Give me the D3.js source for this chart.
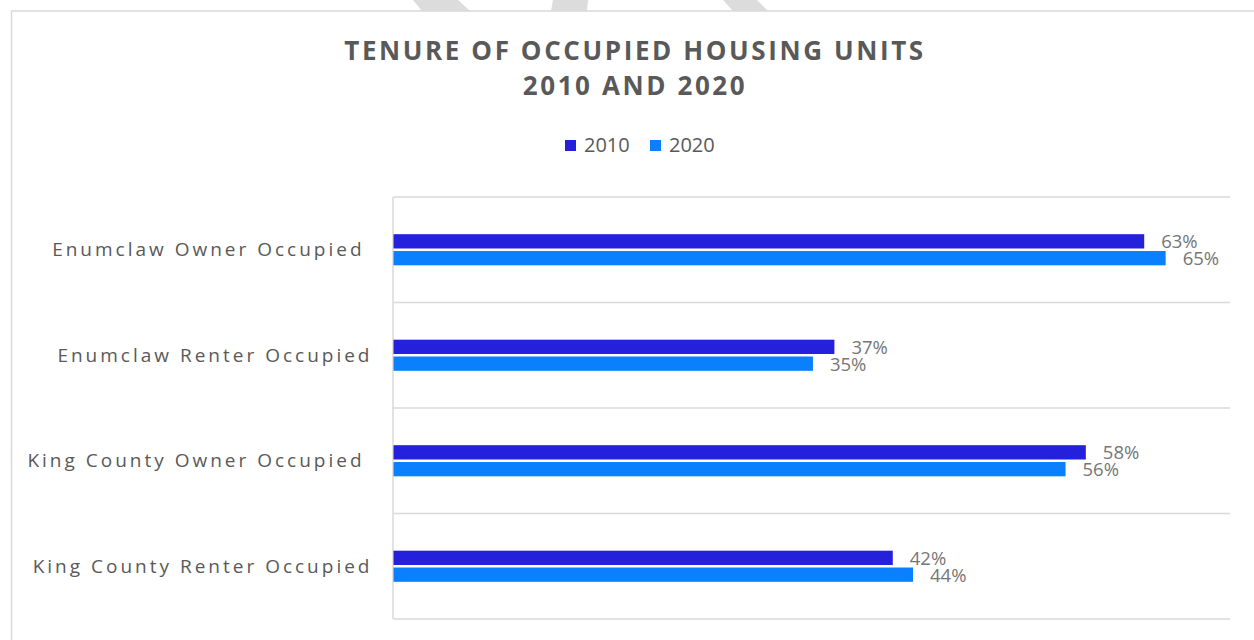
<!DOCTYPE html>
<html>
<head>
<meta charset="utf-8">
<script src="https://cdn.jsdelivr.net/npm/d3@7"></script>
<style>
  html, body { margin: 0; padding: 0; background: #ffffff; }
  svg { display: block; font-family: "Open Sans", "Noto Sans", sans-serif; }
</style>
</head>
<body>
<svg id="chart" width="1254" height="640"></svg>
<script>
// ---- data ----
const categories = [
  "Enumclaw Owner Occupied ",
  "Enumclaw Renter Occupied",
  "King County Owner Occupied ",
  "King County Renter Occupied"
];
const seriesNames = ["2010", "2020"];
const values2010 = [0.630, 0.370, 0.581, 0.419];
const values2020 = [0.648, 0.352, 0.564, 0.436];
const seriesColors = ["#2420DC", "#0B80FF"];
const titleLines = ["TENURE OF OCCUPIED HOUSING UNITS", "2010 AND 2020"];
const valueDomain = [0, 0.702];

const seriesValues = [values2010, values2020];
const rows = categories.map((c, i) => ({
  category: c,
  values: seriesNames.map((s, j) => ({ series: s, value: seriesValues[j][i] }))
}));

const svg = d3.select("#chart");
const W = 1254, H = 640;

// faint watermark strokes above chart frame
const wm = svg.append("g").attr("fill", "#dcdcdc");
[[[413,0],[458,0],[470,11],[422,11]],
 [[553,0],[588,0],[587,11],[551,11]],
 [[723,0],[757,0],[768,11],[733,11]]].forEach(p => {
  wm.append("polygon").attr("points", p.map(q => q.join(",")).join(" "));
});

// chart frame
svg.append("rect")
  .attr("x", 11.5).attr("y", 11)
  .attr("width", W + 20).attr("height", H + 20)
  .attr("fill", "#ffffff")
  .attr("stroke", "#d9d9d9").attr("stroke-width", 1.5);

// title
const title = svg.append("text")
  .attr("text-anchor", "middle")
  .attr("fill", "#595959")
  .attr("font-weight", 700)
  .attr("font-size", 26)
  .style("letter-spacing", "2.6px");
titleLines.forEach((t, i) => {
  title.append("tspan").attr("x", 635).attr("y", 60 + i * 35).text(t);
});

// legend
const legend = svg.append("g");
const legendX = [565, 650];
seriesNames.forEach((s, i) => {
  legend.append("rect")
    .attr("x", legendX[i]).attr("y", 140)
    .attr("width", 11).attr("height", 11)
    .attr("fill", seriesColors[i]);
  legend.append("text")
    .attr("x", legendX[i] + 19).attr("y", 152)
    .attr("font-size", 20).attr("fill", "#595959")
    .text(s);
});

// plot area
const plot = { left: 393.5, right: 1230, top: 197, bottom: 619 };

const x = d3.scaleLinear().domain(valueDomain).range([plot.left, plot.right]);
const y0 = d3.scaleBand().domain(categories).range([plot.top, plot.bottom]).padding(0);
const groupH = y0.bandwidth() * 0.295;
const y1 = d3.scaleBand().domain(seriesNames).range([0, groupH]).paddingInner(0.15);
const color = d3.scaleOrdinal().domain(seriesNames).range(seriesColors);

// gridlines at category boundaries
const bounds = categories.map(c => y0(c)).concat([plot.bottom]);
svg.append("g").selectAll("line").data(bounds).join("line")
  .attr("x1", plot.left).attr("x2", plot.right)
  .attr("y1", d => d).attr("y2", d => d)
  .attr("stroke", "#d9d9d9").attr("stroke-width", 1.5);

// category axis line
svg.append("line")
  .attr("x1", plot.left - 0.5).attr("x2", plot.left - 0.5)
  .attr("y1", plot.top).attr("y2", plot.bottom)
  .attr("stroke", "#d9d9d9").attr("stroke-width", 1.5);

// category axis labels
const yAxis = svg.append("g")
  .attr("transform", `translate(${plot.left},0)`)
  .call(d3.axisLeft(y0).tickSize(0).tickPadding(21));
yAxis.select(".domain").remove();
yAxis.selectAll("text")
  .attr("font-family", "'Open Sans', sans-serif")
  .attr("font-size", 19)
  .attr("fill", "#595959")
  .attr("dy", "0.35em")
  .style("letter-spacing", "3px")
  .style("white-space", "pre");

// bars
const groups = svg.append("g").selectAll("g").data(rows).join("g")
  .attr("transform", d => `translate(0,${y0(d.category) + (y0.bandwidth() - groupH) / 2})`);

groups.selectAll("rect").data(d => d.values).join("rect")
  .attr("x", x(0))
  .attr("y", d => y1(d.series))
  .attr("width", d => x(d.value) - x(0))
  .attr("height", y1.bandwidth())
  .attr("fill", d => color(d.series));

groups.selectAll("text").data(d => d.values).join("text")
  .attr("x", d => x(d.value) + 17)
  .attr("y", d => y1(d.series) + y1.bandwidth() / 2)
  .attr("dy", "0.38em")
  .attr("font-size", 18.5)
  .attr("fill", "#767676")
  .text(d => d3.format(".0%")(d.value));
</script>
</body>
</html>
